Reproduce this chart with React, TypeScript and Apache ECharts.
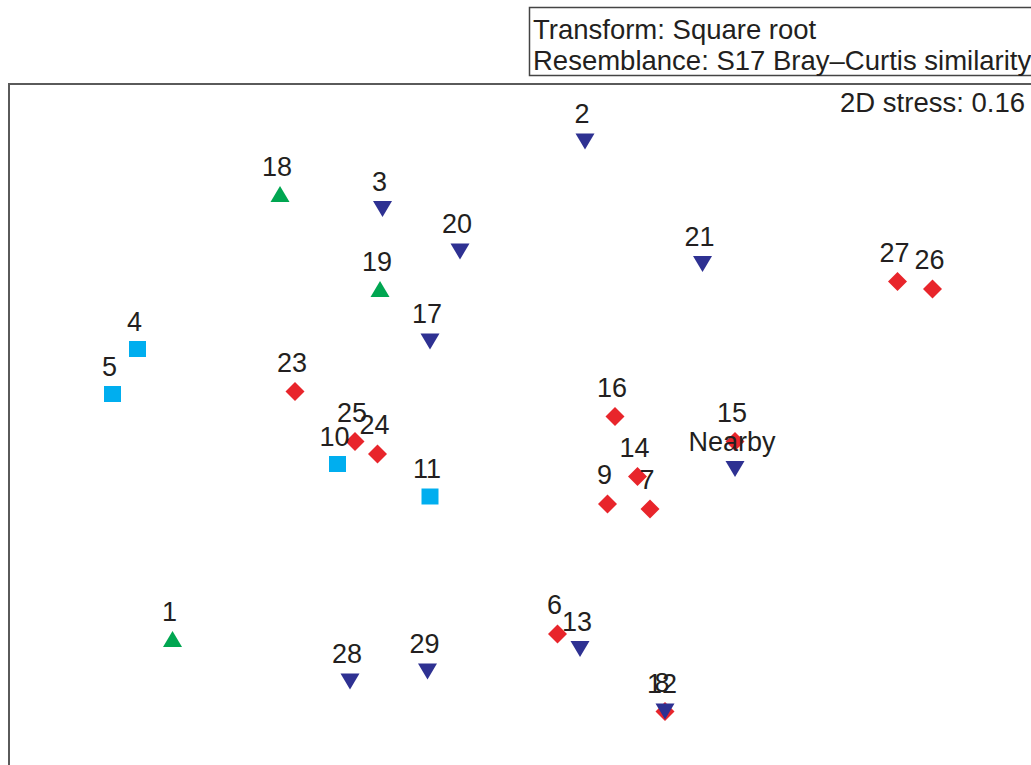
import React, { useEffect, useRef } from "react";
import * as echarts from "echarts";

// nMDS coordinates (arbitrary units)
const greenLabels = ["18", "19", "1"];
const greenX = [-1.04, -0.64, -1.47];
const greenY = [1.0, 0.62, -0.78];

const redLabels = ["27", "26", "23", "25", "24", "16", "14", "15", "9", "7", "6", "8"];
const redX = [1.43, 1.57, -0.98, -0.74, -0.65, 0.3, 0.39, 0.78, 0.27, 0.44, 0.07, 0.5];
const redY = [0.65, 0.62, 0.21, 0.01, -0.04, 0.11, -0.13, 0.01, -0.24, -0.26, -0.76, -1.07];

const blueLabels = ["2", "3", "20", "21", "17", "Nearby", "13", "28", "29", "12"];
const blueX = [0.18, -0.63, -0.32, 0.65, -0.44, 0.78, 0.16, -0.76, -0.45, 0.5];
const blueY = [1.21, 0.94, 0.77, 0.72, 0.41, -0.1, -0.82, -0.95, -0.91, -1.07];

const cyanLabels = ["4", "5", "10", "11"];
const cyanX = [-1.61, -1.71, -0.81, -0.44];
const cyanY = [0.38, 0.2, -0.08, -0.21];

const infoLines = ["Transform: Square root", "Resemblance: S17 Bray\u2013Curtis similarity"];
const stressText = "2D stress: 0.16";

const FONT = "'Liberation Sans', Arial, sans-serif";
const TEXT = "#231F20";

function pts(xs: number[], ys: number[], labels: string[]) {
  return xs.map((x, i) => ({ value: [x, ys[i]], name: labels[i] }));
}

const labelCfg = {
  show: true,
  position: "top" as const,
  distance: 6,
  offset: [-3, 0],
  formatter: (p: any) => p.name,
  color: TEXT,
  fontSize: 27,
  lineHeight: 27,
  fontFamily: FONT,
};

export default function App() {
  const ref = useRef<HTMLDivElement>(null);
  useEffect(() => {
    if (!ref.current) return;
    const chart = echarts.init(ref.current, undefined, { renderer: "svg" });
    chart.setOption({
      animation: false,
      backgroundColor: "#ffffff",
      grid: {
        left: 10,
        top: 84,
        right: 0,
        bottom: 0,
        show: false,
      },
      xAxis: {
        type: "value",
        min: -2.12,
        max: 1.964,
        show: false,
        splitLine: { show: false },
      },
      yAxis: {
        type: "value",
        min: -1.284,
        max: 1.44,
        show: false,
        splitLine: { show: false },
      },
      series: [
        {
          type: "scatter",
          name: "red",
          data: pts(redX, redY, redLabels),
          symbol: "diamond",
          symbolSize: [19, 19],
          itemStyle: { color: "#E8252B", opacity: 1 },
          label: labelCfg,
        },
        {
          type: "scatter",
          name: "blue",
          data: pts(blueX, blueY, blueLabels),
          symbol: "triangle",
          symbolRotate: 180,
          symbolSize: [19, 16],
          itemStyle: { color: "#2E3192", opacity: 1 },
          label: labelCfg,
        },
        {
          type: "scatter",
          name: "green",
          data: pts(greenX, greenY, greenLabels),
          symbol: "triangle",
          symbolSize: [19, 16],
          itemStyle: { color: "#00A651", opacity: 1 },
          label: labelCfg,
        },
        {
          type: "scatter",
          name: "cyan",
          data: pts(cyanX, cyanY, cyanLabels),
          symbol: "rect",
          symbolSize: [17, 16],
          itemStyle: { color: "#00AEEF", opacity: 1 },
          label: labelCfg,
        },
      ],
      graphic: [
        {
          type: "line",
          shape: { x1: 9, y1: 84, x2: 1040, y2: 84 },
          style: { stroke: "#5a5a5a", lineWidth: 2 },
          z: 1,
        },
        {
          type: "line",
          shape: { x1: 9, y1: 83, x2: 9, y2: 770 },
          style: { stroke: "#5a5a5a", lineWidth: 2 },
          z: 1,
        },
        {
          type: "rect",
          shape: { x: 529.5, y: 7.5, width: 520, height: 68 },
          style: { fill: "#fff", stroke: "#444", lineWidth: 1.5 },
          z: 10,
        },
        {
          type: "text",
          x: 533,
          y: 29,
          style: {
            text: infoLines[0],
            fill: TEXT,
            fontSize: 27.5,
            fontFamily: FONT,
            verticalAlign: "middle",
          },
          z: 11,
        },
        {
          type: "text",
          x: 533,
          y: 60,
          style: {
            text: infoLines[1],
            fill: TEXT,
            fontSize: 27.5,
            fontFamily: FONT,
            verticalAlign: "middle",
          },
          z: 11,
        },
        {
          type: "text",
          x: 1025,
          y: 102,
          style: {
            text: stressText,
            fill: TEXT,
            fontSize: 27.5,
            fontFamily: FONT,
            align: "right",
            verticalAlign: "middle",
          },
          z: 11,
        },
      ],
    });
    return () => chart.dispose();
  }, []);
  return (
    <div
      ref={ref}
      style={{ position: "absolute", left: 0, top: 0, width: 1031, height: 765 }}
    />
  );
}
